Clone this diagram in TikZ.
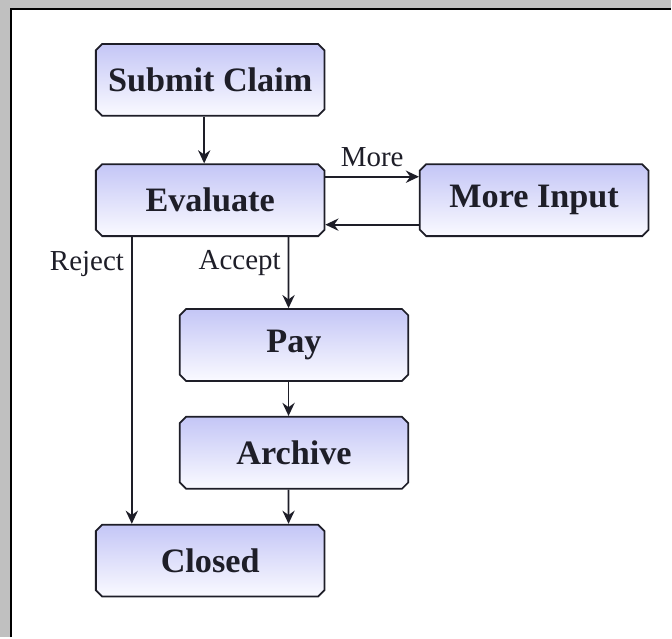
\documentclass[tikz,border=0pt]{standalone}
\usepackage{fontspec}
\setmainfont{Liberation Serif}
\usepackage{tikz}
\usetikzlibrary{arrows.meta,positioning,shapes.misc}
\definecolor{boxTop}{HTML}{C4C6F6}
\definecolor{boxBot}{HTML}{FAFAFF}
\definecolor{ink}{HTML}{1E1E28}
\definecolor{frameGray}{HTML}{C0C0C0}

\begin{document}
\begin{tikzpicture}[x=0.02cm,y=-0.02cm,>={Stealth[length=7.5pt,width=7pt,inset=2.5pt]},
  claimbox/.style={chamfered rectangle,chamfered rectangle xsep=1.8pt,chamfered rectangle ysep=1.8pt,
    draw=ink,line width=1pt,top color=boxTop,bottom color=boxBot,text=ink,
    minimum width=4.58cm,minimum height=1.44cm,inner sep=0pt,
    font=\fontsize{19.5}{22}\selectfont\bfseries},
  lbl/.style={font=\fontsize{16.5}{19}\selectfont,text=ink,inner sep=1pt},
  flow/.style={->,draw=ink,line width=1pt}]
% --- window frame ---
\fill[frameGray] (0,0) rectangle (672,638);
\fill[white] (11,9) rectangle (672,638);
\draw[black,line width=1.2pt] (11,638) -- (11,9) -- (672,9);
% --- boxes ---
\foreach \y/\n/\t in {80/submit/Submit Claim,200.5/evaluate/Evaluate,561.5/closed/Closed}
  {\node[claimbox] (\n) at (210.5,\y) {\t};}
\foreach \y/\n/\t in {345.5/pay/Pay,453.5/archive/Archive}
  {\node[claimbox] (\n) at (294.5,\y) {\t};}
\node[claimbox] (more) at (535,200.5) {More Input};
% --- flow ---
\draw[flow] ([xshift=-0.12cm]submit.south) -- ([xshift=-0.12cm]evaluate.north);
\draw[flow] ([yshift=0.47cm]evaluate.east) -- ([yshift=0.47cm]more.west)
  node[lbl,midway,above=4pt] (morelbl) {More};
\draw[flow] ([yshift=-0.49cm]more.west) -- ([yshift=-0.49cm]evaluate.east);
\draw[flow] ([xshift=-1.57cm]evaluate.south) -- ([xshift=-1.57cm]closed.north)
  node[lbl,pos=0.093,left=3pt] (rejectlbl) {Reject};
\draw[flow] ([xshift=1.57cm]evaluate.south) -- ([xshift=-0.11cm]pay.north)
  node[lbl,pos=0.365,left=3pt] (acceptlbl) {Accept};
\draw[flow] ([xshift=-0.11cm]pay.south) -- ([xshift=-0.11cm]archive.north);
\draw[flow] ([xshift=-0.11cm]archive.south) -- ([xshift=1.57cm]closed.north);
\end{tikzpicture}
\end{document}
